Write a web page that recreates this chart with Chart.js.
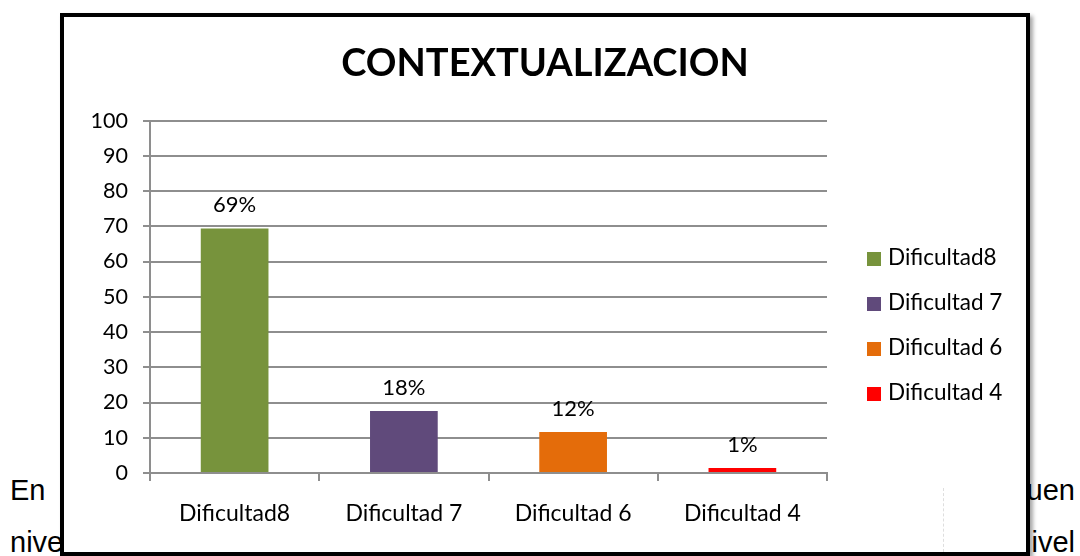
<!DOCTYPE html>
<html>
<head>
<meta charset="utf-8">
<script src="https://cdn.jsdelivr.net/npm/chart.js@4.4.0/dist/chart.umd.min.js"></script>
<style>
  html, body { margin: 0; padding: 0; background: #fff; }
  body { width: 1080px; height: 556px; position: relative; overflow: hidden; font-family: "Liberation Sans", Arial, sans-serif; }
  .txt { position: absolute; font-size: 29px; color: #000; white-space: nowrap; }
  .dash { position: absolute; left: 943px; top: 488px; height: 64px; border-left: 1px dashed #dedede; z-index: 2; }
  #frame {
    position: absolute; left: 60px; top: 13px; width: 962px; height: 535px;
    border: 4px solid #000; background: #fff;
    box-shadow: 3px 3px 4px rgba(0,0,0,0.35);
  }
  #frame canvas { position: absolute; left: 0; top: 0; }
  #legend { position: absolute; left: 803px; top: 228px; margin: 0; padding: 0; list-style: none; font-family: Lato, sans-serif; font-size: 22.5px; white-space: nowrap; }
  #legend li { height: 45px; position: relative; }
  #legend span.box { position: absolute; left: 0; top: 7px; width: 14px; height: 14px; }
  #legend span.lab { position: absolute; left: 21px; top: -1px; line-height: 26px; }
</style>
</head>
<body>
<div class="txt" style="left:10px; top:474px;">En</div>
<div class="txt" style="left:10px; top:526px;">nivel</div>
<div class="txt" style="right:5px; top:474px;">buen</div>
<div class="txt" style="right:5px; top:526px;">nivel</div>

<div id="frame">
  <canvas id="myChart" width="962" height="535"></canvas>
  <ul id="legend"></ul>
</div>
<div class="dash"></div>

<script>
const chartTitle = 'CONTEXTUALIZACION';
const categories = ['Dificultad8', 'Dificultad 7', 'Dificultad 6', 'Dificultad 4'];
const values = [69.4, 17.6, 11.6, 1.4];
const valueLabels = ['69%', '18%', '12%', '1%'];
const barColors = ['#77933C', '#604A7B', '#E46C0A', '#FF0000'];
const yTicks = [0, 10, 20, 30, 40, 50, 60, 70, 80, 90, 100];

const gridGray = '#8e8e8e';

// legend, one entry per category
const legend = document.getElementById('legend');
categories.forEach((c, i) => {
  const li = document.createElement('li');
  li.innerHTML = `<span class="box" style="background:${barColors[i]}"></span><span class="lab">${c}</span>`;
  legend.appendChild(li);
});

// percent labels above the bars
const barLabels = {
  id: 'barLabels',
  afterDatasetsDraw(chart) {
    const ctx = chart.ctx;
    const meta = chart.getDatasetMeta(0);
    ctx.save();
    ctx.font = '22px Lato';
    ctx.fillStyle = '#000';
    ctx.textAlign = 'center';
    ctx.textBaseline = 'alphabetic';
    meta.data.forEach((bar, i) => {
      ctx.fillText(valueLabels[i], bar.x, bar.y - 16);
    });
    ctx.restore();
  }
};

const ctx = document.getElementById('myChart').getContext('2d');
const myChart = new Chart(ctx, {
  type: 'bar',
  data: {
    labels: categories,
    datasets: [
      {
        data: values,
        backgroundColor: barColors,
        borderWidth: 0,
        categoryPercentage: 1,
        barPercentage: 0.4,
      },
    ],
  },
  plugins: [barLabels],
  options: {
    responsive: false,
    animation: false,
    devicePixelRatio: 1,
    plugins: {
      legend: { display: false },
      tooltip: { enabled: false },
      title: {
        display: true,
        text: chartTitle,
        color: '#000',
        font: { family: 'Lato', size: 38, weight: 'bold' },
        padding: { top: 24, bottom: 34 },
      },
    },
    scales: {
      y: {
        min: 0,
        max: 100,
        afterBuildTicks(scale) {
          scale.ticks = yTicks.map((v) => ({ value: v }));
        },
        afterFit(scale) {
          scale.width = 86;
        },
        grid: {
          color: gridGray,
          lineWidth: 2,
          tickLength: 7,
        },
        border: { color: gridGray, width: 2 },
        ticks: {
          color: '#000',
          padding: 15,
          font: { family: 'Lato', size: 21.5 },
        },
      },
      // empty axis on the right, leaves room for the legend
      yRight: {
        position: 'right',
        min: 0,
        max: 100,
        afterFit(scale) {
          scale.width = 199;
        },
        grid: { display: false },
        border: { display: false },
        ticks: { display: false },
      },
      x: {
        afterFit(scale) {
          scale.height = 79;
        },
        grid: {
          color: gridGray,
          lineWidth: 2,
          drawOnChartArea: false,
          tickLength: 8,
          offset: true,
        },
        border: { color: gridGray, width: 2 },
        ticks: {
          color: '#000',
          padding: 19,
          font: { family: 'Lato', size: 23 },
        },
      },
    },
  },
});
</script>
</body>
</html>
